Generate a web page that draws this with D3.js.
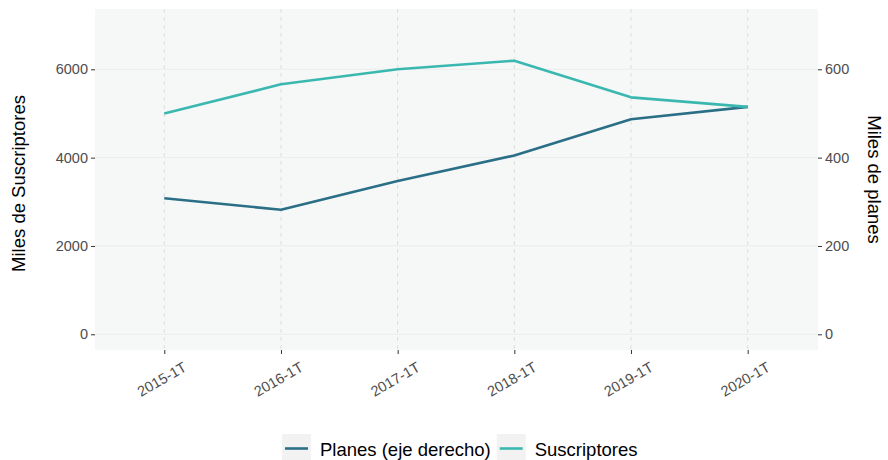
<!DOCTYPE html>
<html><head><meta charset="utf-8">
<script src="https://cdn.jsdelivr.net/npm/d3@7"></script>
<style>body{margin:0;background:#fff}svg{display:block;font-family:"Liberation Sans",Arial,sans-serif}</style>
</head><body><svg id="c" width="888" height="460"></svg>
<script>
const categories = ["2015-1T","2016-1T","2017-1T","2018-1T","2019-1T","2020-1T"];
const suscriptores = [5000, 5660, 6000, 6195, 5365, 5150];
const planes = [308, 282, 347, 405, 487, 515];
const leftTicks = [0, 2000, 4000, 6000];
const rightTicks = [0, 200, 400, 600];
const seriesNames = ["Planes (eje derecho)", "Suscriptores"];
const colors = ["#2b6f87", "#3ab8b0"];

const svg = d3.select("#c");
const L = 95, R = 818, T = 9, B = 350;
const x = d3.scalePoint().domain(categories).range([164.3, 747.7]);
const y = d3.scaleLinear().domain([0, 6000]).range([334.3, 69.3]);
const y2 = d3.scaleLinear().domain([0, 600]).range([334.3, 69.3]);

svg.append("rect").attr("x", L).attr("y", T).attr("width", R - L).attr("height", B - T).attr("fill", "#f6f8f8");
svg.append("g").selectAll("line").data(leftTicks).join("line")
  .attr("x1", L).attr("x2", R).attr("y1", d => y(d)).attr("y2", d => y(d))
  .attr("stroke", "#ebeded").attr("stroke-width", 1);
svg.append("g").selectAll("line").data(categories).join("line")
  .attr("x1", d => x(d)).attr("x2", d => x(d)).attr("y1", T).attr("y2", B)
  .attr("stroke", "#dcdcdc").attr("stroke-width", 1).attr("stroke-dasharray", "4,4");

function styleAxis(g){
  g.select(".domain").remove();
  g.selectAll(".tick line").attr("stroke", "#333").attr("stroke-width", 1);
  g.selectAll(".tick text").attr("fill", "#4d4d4d").style("font-size", "14.5px");
}
svg.append("g").attr("transform", `translate(${L},0)`)
  .call(d3.axisLeft(y).tickValues(leftTicks).tickSize(4).tickPadding(3).tickFormat(d3.format("d")))
  .call(styleAxis);
svg.append("g").attr("transform", `translate(${R},0)`)
  .call(d3.axisRight(y2).tickValues(rightTicks).tickSize(4).tickPadding(3).tickFormat(d3.format("d")))
  .call(styleAxis);
const gx = svg.append("g").attr("transform", `translate(0,${B})`)
  .call(d3.axisBottom(x).tickSize(4).tickPadding(4))
  .call(styleAxis);
gx.selectAll(".tick text").attr("text-anchor", "end").attr("x", 0).attr("y", 0).attr("dy", 0)
  .attr("transform", "translate(23,20) rotate(-30)");

svg.append("text").attr("transform", `translate(25,${(T + B) / 2 + 4}) rotate(-90)`)
  .attr("text-anchor", "middle").style("font-size", "18.5px").attr("fill", "#000").text("Miles de Suscriptores");
svg.append("text").attr("transform", `translate(868,${(T + B) / 2}) rotate(90)`)
  .attr("text-anchor", "middle").style("font-size", "18.5px").attr("fill", "#000").text("Miles de planes");

const line1 = d3.line().x((d, i) => x(categories[i])).y(d => y2(d));
const line2 = d3.line().x((d, i) => x(categories[i])).y(d => y(d));
svg.append("path").datum(planes).attr("d", line1).attr("fill", "none").attr("stroke", colors[0]).attr("stroke-width", 2.6).attr("stroke-linejoin", "round");
svg.append("path").datum(suscriptores).attr("d", line2).attr("fill", "none").attr("stroke", colors[1]).attr("stroke-width", 2.6).attr("stroke-linejoin", "round");

// legend
const lg = svg.append("g");
let lx = 282;
seriesNames.forEach((name, i) => {
  lg.append("rect").attr("x", lx).attr("y", 434).attr("width", 29).attr("height", 29).attr("fill", "#f2f2f2");
  lg.append("line").attr("x1", lx + 3).attr("x2", lx + 26).attr("y1", 448.5).attr("y2", 448.5).attr("stroke", colors[i]).attr("stroke-width", 2.6);
  const t = lg.append("text").attr("x", lx + 38).attr("y", 455.5).style("font-size", "18.5px").attr("fill", "#000").text(name);
  lx = lx + 38 + t.node().getComputedTextLength() + 6;
});
</script></body></html>
